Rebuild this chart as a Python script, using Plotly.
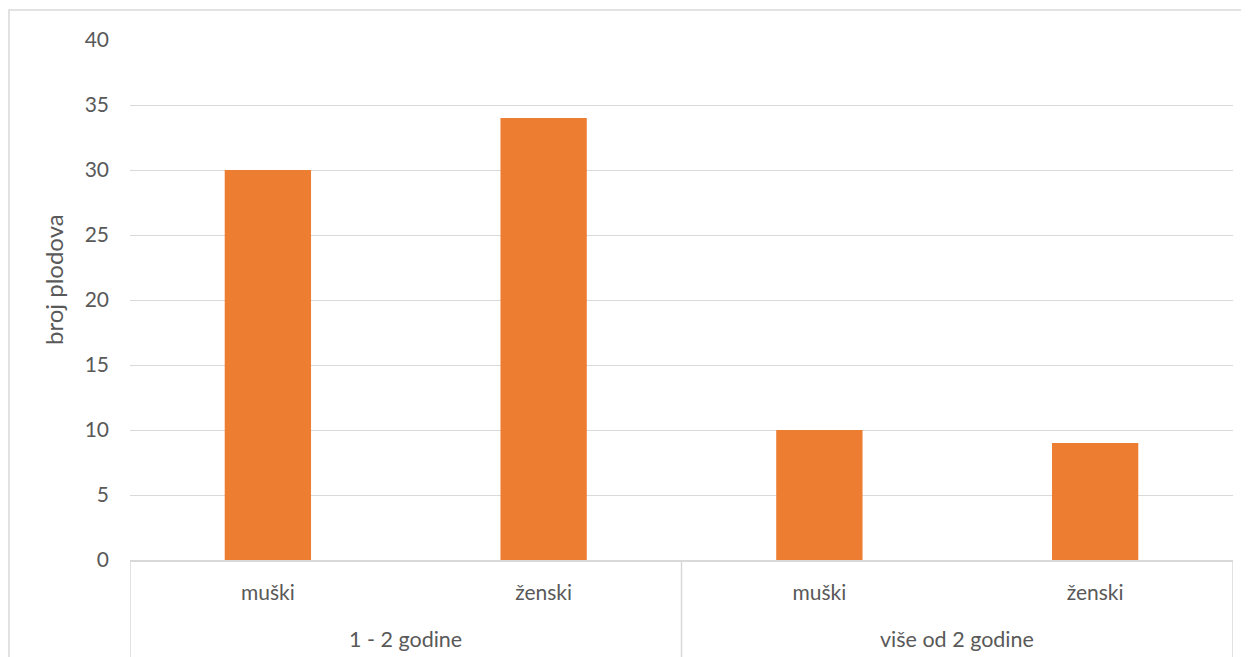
import plotly.graph_objects as go

groups = ["1 - 2 godine", "više od 2 godine"]
group_sizes = [2, 2]
sexes = ["muški", "ženski", "muški", "ženski"]
values = [30, 34, 10, 9]
y_ticks = [0, 5, 10, 15, 20, 25, 30, 35, 40]

TEXT = "#595959"
GRID = "#D9D9D9"
FONT = "Lato"

positions = list(range(len(sexes)))

fig = go.Figure(go.Bar(
    x=positions, y=values,
    marker=dict(color="#ED7D31", line=dict(width=0)),
    width=0.313,
))

# plot area in screen pixels: x 130..1233, y 40..560 (page has 8px body margin)
PL, PR, PT, PB = 130, 1233, 40, 560
PW, PH = PR - PL, PB - PT

def py(screen_y):
    return (PB - screen_y) / PH

def px(screen_x):
    return (screen_x - PL) / PW

shapes = []
# category-axis dividers at group boundaries
bounds = [-0.5]
for s in group_sizes:
    bounds.append(bounds[-1] + s)
for b in bounds:
    shapes.append(dict(type="line", xref="x", yref="paper", x0=b, x1=b,
                       y0=0, y1=py(670), line=dict(color=GRID, width=1.5)))
# outer chart border
shapes.append(dict(type="rect", xref="paper", yref="paper",
                   x0=px(9), x1=px(1262), y0=py(672), y1=py(10),
                   line=dict(color=GRID, width=1.5), fillcolor="rgba(0,0,0,0)", layer="below"))

annotations = []
start = -0.5
for g, s in zip(groups, group_sizes):
    annotations.append(dict(text=g, xref="x", yref="paper", x=start + s / 2, y=py(639),
                            showarrow=False, xanchor="center", yanchor="middle",
                            font=dict(size=21.5, color=TEXT, family=FONT)))
    start += s
annotations.append(dict(text="broj plodova", xref="paper", yref="paper", x=px(53), y=py(280),
                        textangle=-90, showarrow=False, xanchor="center", yanchor="middle",
                        font=dict(size=24, color=TEXT, family=FONT)))

fig.update_layout(
    width=1241, height=649,
    margin=dict(l=PL - 8, r=1249 - PR, t=PT - 8, b=657 - PB),
    paper_bgcolor="white", plot_bgcolor="white",
    showlegend=False,
    font=dict(family=FONT, size=21, color=TEXT),
    xaxis=dict(
        range=[-0.5, len(sexes) - 0.5],
        tickvals=positions, ticktext=sexes,
        showline=True, linecolor=GRID, linewidth=1.5,
        ticks="", ticklabelstandoff=13,
        tickfont=dict(size=21, color=TEXT, family=FONT),
        showgrid=False, zeroline=False,
    ),
    yaxis=dict(
        range=[0, 40], tickvals=y_ticks,
        showgrid=True, gridcolor=GRID, gridwidth=1.3,
        zeroline=False, showline=False,
        ticks="", ticklabelstandoff=20,
        tickfont=dict(size=21, color=TEXT, family=FONT),
    ),
    shapes=shapes,
    annotations=annotations,
)

fig.write_html("out.html")
